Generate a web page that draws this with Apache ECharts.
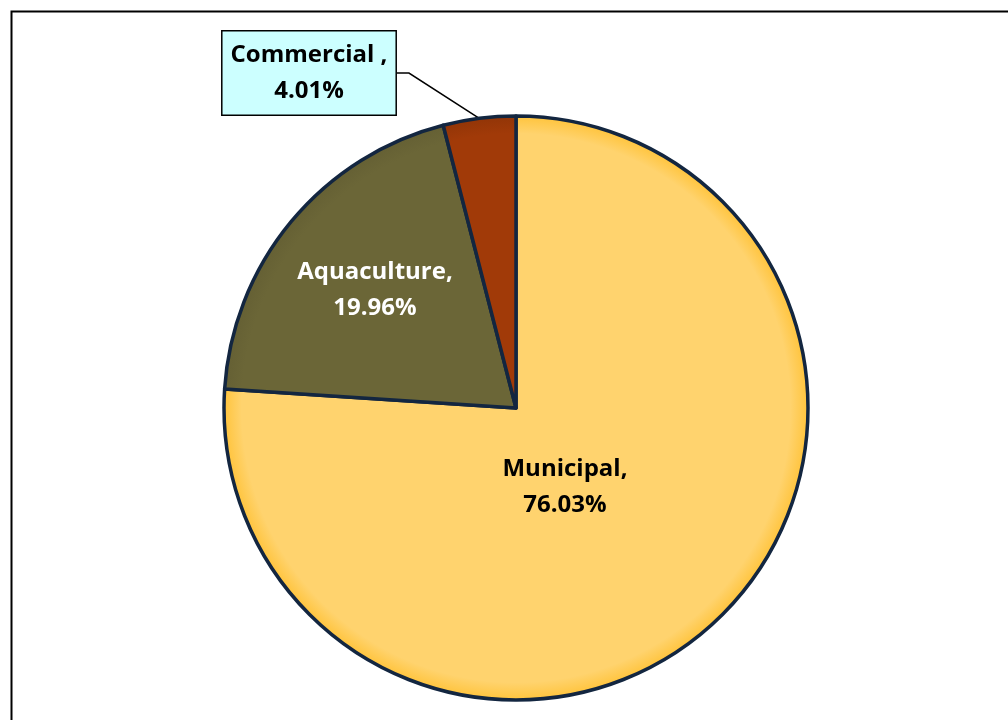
<!DOCTYPE html>
<html><head><meta charset="utf-8">
<script src="https://cdn.jsdelivr.net/npm/echarts@6/dist/echarts.min.js"></script>
<style>html,body{margin:0;padding:0;background:#fff}#c{width:1008px;height:720px}</style>
</head><body><div id="c"></div>
<script>
const categories = ['Municipal', 'Aquaculture', 'Commercial'];
const values = [76.03, 19.96, 4.01];
const labelNames = ['Municipal,', 'Aquaculture,', 'Commercial ,'];

const colors = ['#FFD36E', '#6B6637', '#A13A08'];
const labelPos = [[565, 487], [375, 290], [309, 73]];
const CX = 516, CY = 408, R = 292;

const chart = echarts.init(document.getElementById('c'), null, {renderer: 'canvas'});
const font = '"Open Sans", Lato, sans-serif';

const data = categories.map((c, i) => {
  const d = {
    name: c, value: values[i],
    itemStyle: {
      color: new echarts.graphic.RadialGradient(CX, CY, R, [
        {offset: 0, color: colors[i]},
        {offset: 0.94, color: colors[i]},
        {offset: 1, color: echarts.color.modifyHSL(colors[i], null, null, i === 0 ? 0.62 : 0.3)}
      ], true)
    }
  };
  if (i === 2) {
    d.label = {
      position: 'outside', color: '#000', backgroundColor: '#CCFFFF',
      borderColor: '#000', borderWidth: 1.5, padding: [6, 8, 5, 8]
    };
    d.labelLine = {show: true, lineStyle: {color: '#000', width: 1.5}};
  } else {
    d.label = {position: 'inside', color: i === 0 ? '#000' : '#fff'};
    d.labelLine = {show: false};
  }
  return d;
});

chart.setOption({
  backgroundColor: '#fff',
  animation: false,
  graphic: [{
    type: 'rect', left: 9, top: 9,
    shape: {width: 1100, height: 800},
    style: {fill: 'none', stroke: '#000', lineWidth: 2}
  }],
  series: [{
    type: 'pie',
    center: [CX, CY],
    radius: [0, R],
    startAngle: 90,
    clockwise: true,
    avoidLabelOverlap: false,
    itemStyle: {borderColor: '#132640', borderWidth: 3.5},
    label: {
      show: true,
      fontFamily: font, fontWeight: 'bold', fontSize: 24, lineHeight: 36,
      align: 'center',
      formatter: p => labelNames[p.dataIndex] + '\n' + p.value.toFixed(2) + '%'
    },
    labelLine: {length: 20, length2: 12},
    labelLayout: function (p) {
      const pos = labelPos[p.dataIndex];
      return {x: pos[0], y: pos[1], align: 'center', verticalAlign: 'middle'};
    },
    data: data
  }]
});
</script></body></html>
